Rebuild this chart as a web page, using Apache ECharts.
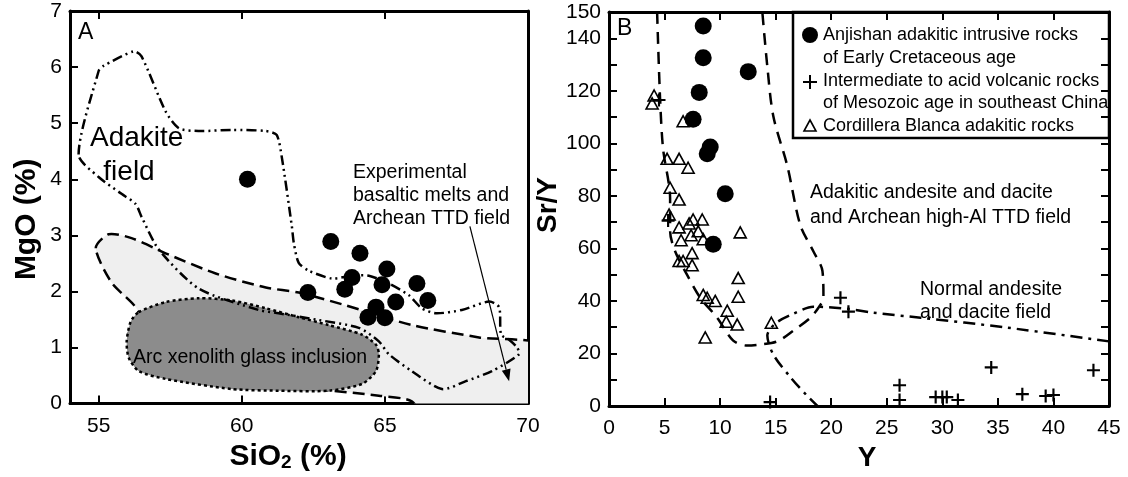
<!DOCTYPE html>
<html>
<head>
<meta charset="utf-8">
<script src="https://cdn.jsdelivr.net/npm/echarts@6/dist/echarts.min.js"></script>
<style>
html, body { margin: 0; background: #fff; }
#main { width: 1128px; height: 477px; }
</style>
</head>
<body>
<div id="main"></div>
<script>
// Panel A: MgO vs SiO2
var siO2Ticks = [55, 60, 65, 70];
var siO2Anj = [60.2, 63.11, 64.13, 65.07, 63.85, 63.6, 64.9, 66.12, 66.5, 65.38, 62.31, 64.69, 64.41, 65.0];
var mgOAnj  = [4.0, 2.89, 2.68, 2.4, 2.25, 2.04, 2.12, 2.14, 1.84, 1.81, 1.98, 1.72, 1.54, 1.53];

// field outlines, [SiO2, MgO]
var adakiteField = [[54.3,4.44],[55.0,5.93],[55.17,6.02],[56.22,6.28],[56.5,6.19],[57.34,5.21],[57.8,4.91],[58.5,4.86],
  [59.65,4.88],[60.84,4.86],[61.22,4.79],[61.4,4.39],[61.75,3.16],[61.82,2.86],[61.99,2.51],[62.34,2.37],[63.15,2.23],
  [63.85,2.28],[64.44,2.28],[65.14,2.14],[65.84,1.93],[66.29,1.7],[66.78,1.61],[67.69,1.67],[68.64,1.82],[68.99,1.72],
  [69.06,1.23],[69.34,1.14],[69.62,1.0],[69.69,0.88],[68.74,0.58],[67.83,0.4],[66.99,0.26],[65.94,0.58],[65.14,0.88],
  [64.79,1.11],[64.09,1.35],[62.69,1.49],[61.29,1.61],[60.59,1.67],[58.5,2.05],[57.1,2.75],[56.5,3.33],[56.29,3.56],
  [55.8,3.74],[55.0,4.04]];
var experimentalField = [[54.9,2.77],[55.35,3.02],[56.15,2.95],[57.34,2.68],[59.09,2.32],[60.84,2.07],[61.99,1.98],
  [63.64,1.75],[65.94,1.4],[68.29,1.18],[70.7,1.0],[70.7,-0.4],[66.6,-0.4],[65.94,0.04],[64.79,0.14],[62.69,0.25],
  [60.59,0.32],[58.5,0.44],[56.75,0.7],[56.05,1.23],[56.4,1.63],[55.45,2.16]];
var xenolithField = [[56.4,1.63],[57.34,1.81],[58.5,1.88],[59.65,1.84],[60.84,1.7],[61.99,1.54],[63.04,1.4],[64.2,1.23],
  [64.69,1.05],[64.79,0.88],[64.69,0.58],[64.2,0.35],[63.04,0.23],[61.29,0.23],[59.65,0.26],[57.34,0.44],[56.4,0.58],
  [56.05,0.82],[55.98,1.11],[56.12,1.46]];
var arrowA = [[67.97, 3.16], [69.34, 0.4]];

// Panel B: Sr/Y vs Y
var srYLabels = [0, 20, 40, 60, 80, 100, 120, 140, 150];
var yAnj   = [8.48, 8.48, 12.53, 8.12, 7.57, 9.11, 8.84, 10.46, 9.38];
var srYAnj = [144.7, 132.6, 127.3, 119.4, 109.2, 98.6, 96.0, 80.8, 61.6];
var yVolc   = [4.5, 5.32, 14.5, 20.83, 21.55, 26.15, 26.15, 29.4, 30.0, 30.4, 31.4, 34.4, 37.2, 39.3, 40.0, 43.6];
var srYVolc = [116.5, 70.6, 1.5, 41.2, 35.9, 7.9, 2.3, 3.4, 3.4, 3.4, 2.3, 14.7, 4.5, 3.8, 4.2, 13.6];
var yCord   = [4.06, 3.88, 6.67, 5.23, 6.31, 7.12, 5.5, 6.31, 5.41, 7.57, 8.39, 6.31, 7.21, 8.03, 7.39, 8.48, 6.49,
  11.81, 7.48, 6.31, 6.67, 7.48, 11.63, 8.48, 8.84, 9.56, 11.63, 10.64, 10.55, 11.54, 8.66, 14.61];
var srYCord = [118.2, 115.2, 108.4, 94.1, 94.1, 90.7, 83.1, 78.6, 72.9, 71.0, 71.0, 68.0, 69.5, 66.5, 65.0, 63.5, 63.1,
  66.1, 58.2, 55.2, 55.2, 53.6, 48.7, 42.3, 41.2, 40.0, 41.6, 36.3, 32.1, 31.0, 26.1, 31.7];
var adakiticBoundary = [[4.33,150],[4.6,116.7],[4.87,97.8],[5.5,79],[5.5,66.5],[5.95,58.9],[7.03,49.9],[8.21,41.2],
  [9.74,33.6],[11.18,24.9],[12.44,23.0],[13.62,23.4],[15.15,24.6],[16.59,28.7],[18.12,33.6],[18.85,37.4],[19.3,41.2],
  [19.21,51.4],[18.39,58.9],[17.22,68.8],[16.05,91.4],[14.79,110.3],[14.25,129.2],[13.8,150]];
var normalBoundary = [[45,24.6],[35.89,29.8],[28.04,33.6],[23.81,35.5],[21.46,37.0],[18.39,37.8],[16.59,35.1],
  [14.97,31.4],[14.25,26.8],[14.79,19.6],[16.32,11.0],[17.76,4.2],[18.76,0]];

var FONT = '"Liberation Sans", Arial, sans-serif';
var myChart = echarts.init(document.getElementById('main'));

function zip(a, b) {
	return a.map(function (v, i) { return [v, b[i]]; });
}

function fieldSeries(pts, fill, dash) {
	return {
		type: 'custom',
		xAxisIndex: 0,
		yAxisIndex: 0,
		silent: true,
		clip: true,
		data: [pts[0]],
		renderItem: function (params, api) {
			return {
				type: 'polygon',
				shape: { points: pts.map(function (p) { return api.coord(p); }), smooth: 0.25 },
				style: { fill: fill, stroke: '#000', lineWidth: 2.5, lineDash: dash }
			};
		}
	};
}

var lineAxis = { show: true, onZero: false, lineStyle: { color: '#000', width: 3 } };
var tickStyle = { color: '#000', width: 2 };
var labelStyle = { color: '#000', fontSize: 21, fontFamily: FONT };
var boldName = { color: '#000', fontSize: 30, fontWeight: 'bold', fontFamily: FONT };

function txt(x, y, s, size, align) {
	return {
		type: 'text', x: x, y: y, z: 100, silent: true,
		style: { text: s, fontSize: size, fontFamily: FONT, fill: '#000', align: align || 'left', verticalAlign: 'middle' }
	};
}

var option = {
	animation: false,
	backgroundColor: '#fff',
	grid: [
		{ left: 70, top: 11, width: 458, height: 399 },
		{ left: 609, top: 12, width: 500, height: 397 }
	],
	xAxis: [
		{
			type: 'value', gridIndex: 0, min: 54, max: 70,
			axisLine: lineAxis,
			axisTick: { inside: true, length: 8, lineStyle: tickStyle, customValues: [55, 60, 65] },
			axisLabel: Object.assign({ margin: 12, customValues: siO2Ticks }, labelStyle),
			splitLine: { show: false },
			name: '{b|SiO}{s|2}{b| (%)}', nameLocation: 'middle', nameGap: 28,
			nameTextStyle: {
				padding: [0, 22, 0, 0],
				rich: {
					b: { fontSize: 30, fontWeight: 'bold', fontFamily: FONT, color: '#000' },
					s: { fontSize: 19, fontWeight: 'bold', fontFamily: FONT, color: '#000', padding: [12, 0, 0, 0] }
				}
			}
		},
		{
			type: 'value', gridIndex: 0, min: 54, max: 70, position: 'top',
			axisLine: lineAxis,
			axisTick: { inside: true, length: 8, lineStyle: tickStyle, customValues: [55, 60, 65] },
			axisLabel: { show: false },
			splitLine: { show: false }
		},
		{
			type: 'value', gridIndex: 1, min: 0, max: 45, interval: 5,
			axisLine: lineAxis,
			axisTick: { inside: true, length: 8, lineStyle: tickStyle },
			axisLabel: Object.assign({ margin: 12 }, labelStyle),
			splitLine: { show: false },
			name: 'Y', nameLocation: 'middle', nameGap: 38,
			nameTextStyle: { color: '#000', fontWeight: 'bold', fontFamily: FONT, fontSize: 28, padding: [0, 0, 0, 16] }
		},
		{
			type: 'value', gridIndex: 1, min: 0, max: 45, interval: 5, position: 'top',
			axisLine: lineAxis,
			axisTick: { inside: true, length: 8, lineStyle: tickStyle },
			axisLabel: { show: false },
			splitLine: { show: false }
		}
	],
	yAxis: [
		{
			type: 'value', gridIndex: 0, min: 0, max: 7, interval: 1,
			axisLine: lineAxis,
			axisTick: { inside: true, length: 8, lineStyle: tickStyle },
			axisLabel: Object.assign({ margin: 8 }, labelStyle),
			splitLine: { show: false },
			name: 'MgO (%)', nameLocation: 'middle', nameGap: 28,
			nameTextStyle: Object.assign({ padding: [0, 24, 0, 0] }, boldName)
		},
		{
			type: 'value', gridIndex: 0, min: 0, max: 7, interval: 1, position: 'right',
			axisLine: lineAxis,
			axisTick: { show: false },
			axisLabel: { show: false },
			splitLine: { show: false }
		},
		{
			type: 'value', gridIndex: 1, min: 0, max: 150, interval: 10,
			axisLine: lineAxis,
			axisTick: { inside: true, length: 8, lineStyle: tickStyle },
			axisLabel: Object.assign({ margin: 8, customValues: srYLabels }, labelStyle),
			splitLine: { show: false },
			name: 'Sr/Y', nameLocation: 'middle', nameGap: 42,
			nameTextStyle: { color: '#000', fontWeight: 'bold', fontFamily: FONT, fontSize: 28, padding: [0, 0, 0, 8] }
		},
		{
			type: 'value', gridIndex: 1, min: 0, max: 150, interval: 10, position: 'right',
			axisLine: lineAxis,
			axisTick: { inside: true, length: 8, lineStyle: tickStyle },
			axisLabel: { show: false },
			splitLine: { show: false }
		}
	],
	series: [
		fieldSeries(experimentalField, '#efefef', [12, 6]),
		fieldSeries(xenolithField, '#8c8c8c', [3, 3]),
		fieldSeries(adakiteField, 'none', [10, 4, 2, 4, 2, 4]),
		{
			// arrow pointing into the experimental field
			type: 'custom', xAxisIndex: 0, yAxisIndex: 0, silent: true,
			data: [arrowA[0]],
			renderItem: function (params, api) {
				var p0 = api.coord(arrowA[0]), p1 = api.coord(arrowA[1]);
				var dx = p1[0] - p0[0], dy = p1[1] - p0[1];
				var len = Math.sqrt(dx * dx + dy * dy), ux = dx / len, uy = dy / len;
				var bx = p1[0] - ux * 12, by = p1[1] - uy * 12;
				return {
					type: 'group',
					children: [
						{ type: 'line', shape: { x1: p0[0], y1: p0[1], x2: bx, y2: by }, style: { stroke: '#000', lineWidth: 1.2 } },
						{ type: 'polygon', shape: { points: [p1, [bx - uy * 4.5, by + ux * 4.5], [bx + uy * 4.5, by - ux * 4.5]] }, style: { fill: '#000' } }
					]
				};
			}
		},
		{
			name: 'Anjishan A', type: 'scatter', xAxisIndex: 0, yAxisIndex: 0,
			data: zip(siO2Anj, mgOAnj), symbol: 'circle', symbolSize: 17,
			itemStyle: { color: '#000', opacity: 1 }
		},
		{
			type: 'line', xAxisIndex: 2, yAxisIndex: 2, silent: true,
			data: adakiticBoundary, showSymbol: false, smooth: 0.3,
			lineStyle: { color: '#000', width: 2.5, type: [12, 8] }
		},
		{
			type: 'line', xAxisIndex: 2, yAxisIndex: 2, silent: true,
			data: normalBoundary, showSymbol: false, smooth: 0.3,
			lineStyle: { color: '#000', width: 2.5, type: [12, 6, 3, 6] }
		},
		{
			name: 'Cordillera Blanca', type: 'scatter', xAxisIndex: 2, yAxisIndex: 2,
			data: zip(yCord, srYCord), symbol: 'triangle', symbolSize: [12, 11],
			itemStyle: { color: 'transparent', borderColor: '#000', borderWidth: 1.6, opacity: 1 }
		},
		{
			name: 'Volcanic', type: 'scatter', xAxisIndex: 2, yAxisIndex: 2,
			data: zip(yVolc, srYVolc),
			symbol: 'path://M5,0H7V5H12V7H7V12H5V7H0V5H5Z', symbolSize: 13,
			itemStyle: { color: '#000', opacity: 1 }
		},
		{
			name: 'Anjishan B', type: 'scatter', xAxisIndex: 2, yAxisIndex: 2,
			data: zip(yAnj, srYAnj), symbol: 'circle', symbolSize: 17,
			itemStyle: { color: '#000', opacity: 1 }
		}
	],
	graphic: [
		txt(78, 33, 'A', 23),
		txt(617, 29, 'B', 23),
		txt(90, 138, 'Adakite', 28),
		txt(129, 172, 'field', 28, 'center'),
		txt(353, 173, 'Experimental', 19.5),
		txt(353, 196, 'basaltic melts and', 19.5),
		txt(353, 219, 'Archean TTD field', 19.5),
		txt(133, 358, 'Arc xenolith glass inclusion', 19.5),
		txt(810, 193, 'Adakitic andesite and dacite', 19.5),
		txt(810, 218, 'and Archean high-Al TTD field', 19.5),
		txt(920, 290, 'Normal andesite', 19.5),
		txt(920, 313, 'and dacite field', 19.5),
		// legend box
		{ type: 'rect', z: 100, silent: true, shape: { x: 793, y: 12, width: 316, height: 126 },
			style: { fill: 'none', stroke: '#000', lineWidth: 2.5 } },
		{ type: 'circle', z: 100, silent: true, shape: { cx: 810, cy: 35, r: 8 }, style: { fill: '#000' } },
		{ type: 'line', z: 100, silent: true, shape: { x1: 803, y1: 82, x2: 817, y2: 82 }, style: { stroke: '#000', lineWidth: 2 } },
		{ type: 'line', z: 100, silent: true, shape: { x1: 810, y1: 75, x2: 810, y2: 89 }, style: { stroke: '#000', lineWidth: 2 } },
		{ type: 'polygon', z: 100, silent: true, shape: { points: [[810, 120], [816, 131], [804, 131]] },
			style: { fill: 'none', stroke: '#000', lineWidth: 1.6 } },
		txt(823, 35, 'Anjishan adakitic intrusive rocks', 18),
		txt(823, 58, 'of Early Cretaceous age', 18),
		txt(823, 81, 'Intermediate to acid volcanic rocks', 18),
		txt(823, 103, 'of Mesozoic age in southeast China', 18),
		txt(823, 126, 'Cordillera Blanca adakitic rocks', 18)
	]
};
myChart.setOption(option);
</script>
</body>
</html>
